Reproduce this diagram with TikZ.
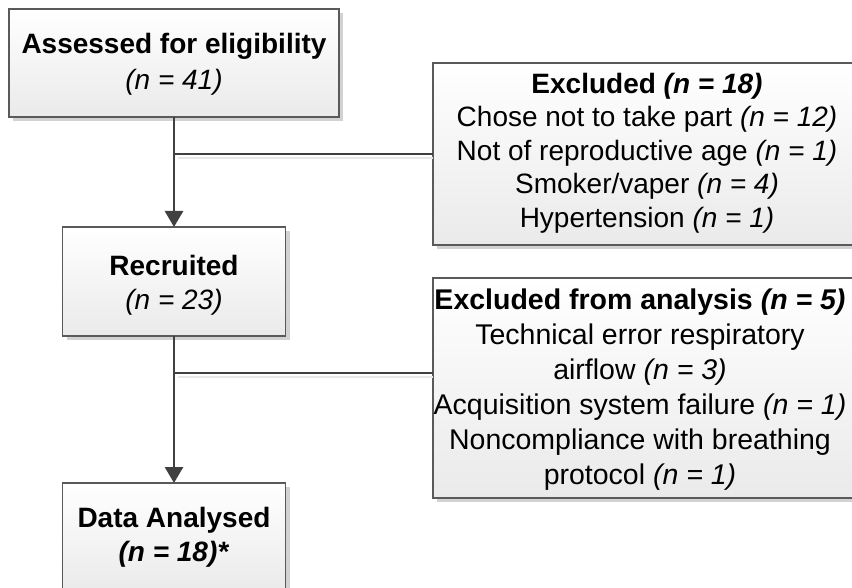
\documentclass[tikz,border=0pt]{standalone}
\usepackage{fontspec}
\setmainfont{Liberation Sans}
\usetikzlibrary{arrows.meta,shadows}
\definecolor{edge}{HTML}{404040}
\definecolor{frame}{HTML}{5A5A5A}
\definecolor{shade}{HTML}{D2D2D2}
\definecolor{lshade}{HTML}{E8E8E8}
\definecolor{boxbot}{HTML}{EAEAEA}
\begin{document}
\begin{tikzpicture}[x=1pt,y=-1pt,
  box/.style={draw=frame, line width=1.2pt, top color=white, bottom color=boxbot,
    general shadow={fill=shade, shadow xshift=4pt, shadow yshift=-4pt},
    inner sep=0pt, outer sep=0pt},
  txt/.style={align=center, font=\fontsize{28}{33.5}\selectfont, inner sep=0pt, text=black},
  flow/.style={draw=edge, line width=2.8pt, -{Triangle[width=18pt,length=16pt]}},
  branch/.style={draw=edge, line width=1.2pt},
  branchshadow/.style={draw=lshade, line width=1.5pt}]
\fill[white] (0,0) rectangle (852,588);
\useasboundingbox (0,0) rectangle (852,588);
% boxes
\node[box, minimum width=330pt, minimum height=108pt] (b1) at (174,63) {};
\node[box, minimum width=428pt, minimum height=182pt] (b2) at (647,154) {};
\node[box, minimum width=223pt, minimum height=109pt] (b3) at (174,281.5) {};
\node[box, minimum width=428pt, minimum height=220pt] (b4) at (647,388) {};
\node[box, minimum width=223pt, minimum height=109pt] (b5) at (174,537.5) {};
% texts
\node[txt, font=\fontsize{28}{36}\selectfont] (t1) at ([yshift=-1pt]b1.center) {\textbf{Assessed for eligibility}\\\textit{(n = 41)}};
\node[txt] (t2) at ([yshift=1pt]b2.center) {\textbf{Excluded \textit{(n = 18)}}\\
  Chose not to take part \textit{(n = 12)}\\
  Not of reproductive age \textit{(n = 1)}\\
  Smoker/vaper \textit{(n = 4)}\\
  Hypertension \textit{(n = 1)}};
\node[txt] (t3) at ([yshift=-4pt]b3.center) {\textbf{Recruited}\\\textit{(n = 23)}};
\node[txt, font=\fontsize{28.5}{35}\selectfont] (t4) at ([xshift=-7pt,yshift=-2pt]b4.center) {\textbf{Excluded from analysis \textit{(n = 5)}}\\
  Technical error respiratory\\
  airflow \textit{(n = 3)}\\
  Acquisition system failure \textit{(n = 1)}\\
  Noncompliance with breathing\\
  protocol \textit{(n = 1)}};
\node[txt] (t5) at (b5.center) {\textbf{Data Analysed}\\\textbf{\textit{(n = 18)*}}};
% junctions
\coordinate (j1) at (b1.south |- b2.west);
\coordinate (j2) at (174,373);
% branch shadows
\draw[branchshadow] ([shift={(4,4)}]j1) -- ([yshift=-4pt]b2.west);
\draw[branchshadow] ([shift={(4,4)}]j2) -- ([shift={(0,4)}]b4.west |- j2);
% connectors
\draw[branch] (j1) -- (b2.west);
\draw[branch] (j2) -- (b4.west |- j2);
\draw[flow] (b1.south) -- (b3.north);
\draw[flow] (b3.south) -- (b5.north);
\end{tikzpicture}
\end{document}
